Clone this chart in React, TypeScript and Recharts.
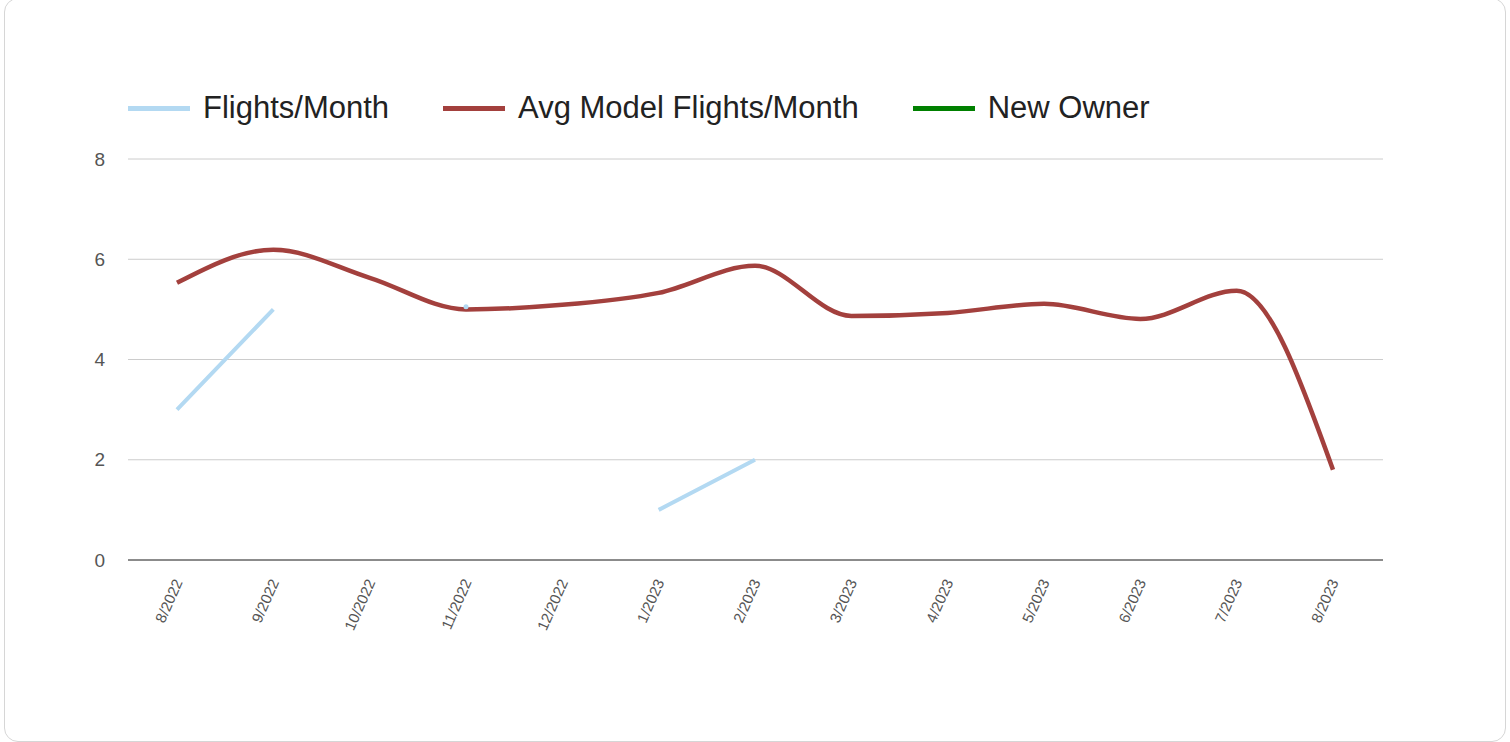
import { CartesianGrid, Legend, Line, LineChart, XAxis, YAxis } from "recharts";

const months = [
  "8/2022", "9/2022", "10/2022", "11/2022", "12/2022", "1/2023", "2/2023",
  "3/2023", "4/2023", "5/2023", "6/2023", "7/2023", "8/2023",
];
const flightsPerMonth: (number | null)[] = [3, 5, null, 5.05, null, 1, 2, null, null, null, null, null, null];
const avgModelFlights = [5.53, 6.19, 5.63, 5.0, 5.09, 5.33, 5.87, 4.87, 4.93, 5.11, 4.81, 5.37, 1.8];
const newOwner: (number | null)[] = months.map(() => null);
const yTicks = [0, 2, 4, 6, 8];
const seriesOrder = ["Flights/Month", "Avg Model Flights/Month", "New Owner"];

const data = months.map((month, i) => ({
  month,
  flights: flightsPerMonth[i],
  avg: avgModelFlights[i],
  newOwner: newOwner[i],
}));

const font = "Arial, 'Liberation Sans', sans-serif";

function MonthTick({ x, y, payload }: any) {
  return (
    <text
      transform={`translate(${x + 6},${y + 14}) rotate(-66)`}
      textAnchor="end"
      fontSize={15}
      fill="#555"
      fontFamily={font}
    >
      {payload.value}
    </text>
  );
}

function FlightsDot({ cx, cy, index }: any) {
  const v = flightsPerMonth[index];
  const alone = v != null && flightsPerMonth[index - 1] == null && flightsPerMonth[index + 1] == null;
  if (!alone) return <g key={`d${index}`} />;
  return <circle key={`d${index}`} cx={cx} cy={cy} r={2.5} fill="#b3d9f2" />;
}

function renderLegend({ payload }: any) {
  const items = [...(payload || [])].sort(
    (a: any, b: any) => seriesOrder.indexOf(a.value) - seriesOrder.indexOf(b.value)
  );
  return (
    <div style={{ display: "flex", height: 40, alignItems: "center", fontFamily: font }}>
      {items.map((item: any) => (
        <div key={item.value} style={{ display: "flex", alignItems: "center", marginRight: 54 }}>
          <span style={{ width: 62, height: 5, background: item.color, marginRight: 13 }} />
          <span style={{ fontSize: 31, color: "#222" }}>{item.value}</span>
        </div>
      ))}
    </div>
  );
}

export default function App() {
  return (
    <div style={{ position: "fixed", left: 0, top: 0, width: 1510, height: 742, background: "#fff" }}>
      <div
        style={{
          position: "absolute",
          left: 4,
          top: -2,
          width: 1500,
          height: 742,
          border: "1px solid #d6d6d6",
          borderRadius: 14,
        }}
      />
      <div style={{ position: "absolute", left: 0, top: 0 }}>
        <LineChart width={1510} height={742} data={data} margin={{ top: 119, right: 127, bottom: 102, left: 68 }}>
          <CartesianGrid vertical={false} stroke="#cccccc" />
          <XAxis
            dataKey="month"
            height={80}
            interval={0}
            padding={{ left: 49, right: 50 }}
            axisLine={{ stroke: "#333", strokeWidth: 1 }}
            tickLine={false}
            tick={<MonthTick />}
          />
          <YAxis
            width={60}
            domain={[0, 8]}
            ticks={yTicks}
            axisLine={false}
            tickLine={false}
            tickSize={6}
            tickMargin={17}
            tick={{ fontSize: 19, fill: "#555", fontFamily: font }}
          />
          <Legend
            verticalAlign="top"
            align="left"
            content={renderLegend}
            wrapperStyle={{ top: 88, left: 128 }}
          />
          <Line
            name="Flights/Month"
            dataKey="flights"
            type="monotone"
            stroke="#b3d9f2"
            strokeWidth={4}
            dot={FlightsDot}
            activeDot={false}
            isAnimationActive={false}
          />
          <Line
            name="Avg Model Flights/Month"
            dataKey="avg"
            type="monotone"
            stroke="#a3403d"
            strokeWidth={4.5}
            dot={false}
            activeDot={false}
            isAnimationActive={false}
          />
          <Line
            name="New Owner"
            dataKey="newOwner"
            type="monotone"
            stroke="#008000"
            strokeWidth={4}
            dot={false}
            activeDot={false}
            isAnimationActive={false}
          />
        </LineChart>
      </div>
    </div>
  );
}
